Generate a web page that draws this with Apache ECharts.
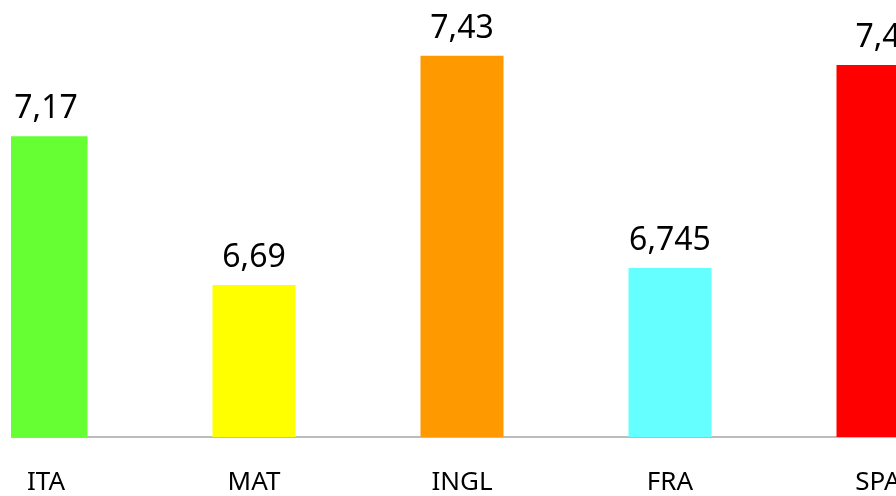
<!DOCTYPE html>
<html>
<head>
<meta charset="utf-8">
<script src="https://cdn.jsdelivr.net/npm/echarts@6/dist/echarts.min.js"></script>
<style>
  html, body { margin: 0; padding: 0; background: #fff; overflow: hidden; width: 896px; height: 496px; }
  #wrap { position: relative; width: 896px; height: 496px; overflow: hidden; }
  /* il grafico originale e' piu' largo della finestra: spostato a sinistra */
  #main { position: absolute; left: -58px; top: 0; width: 1040px; height: 496px; }
  #mask { position: absolute; left: 0; top: 0; width: 11px; height: 496px; background: #fff; }
</style>
</head>
<body>
<div id="wrap">
  <div id="main"></div>
  <div id="mask"></div>
</div>
<script>
// materie
var categories = ['ITA', 'MAT', 'INGL', 'FRA', 'SPA'];
// medie
var values = [7.17, 6.69, 7.43, 6.745, 7.4];
var barColors = ['#66FF33', '#FFFF00', '#FF9900', '#66FFFF', '#FF0000'];

var myChart = echarts.init(document.getElementById('main'));

var barData = [];
for (var i = 0; i < values.length; i++) {
    barData.push({ value: values[i], itemStyle: { color: barColors[i] } });
}

var option = {
    animation: false,
    grid: {
        left: 0,
        right: 0,
        top: 3,
        bottom: 58
    },
    xAxis: {
        type: 'category',
        data: categories,
        axisLine: { lineStyle: { color: '#A6A6A6', width: 1.5 } },
        axisTick: { show: false },
        axisLabel: {
            color: '#000',
            fontFamily: 'Noto Sans',
            fontSize: 26,
            margin: 33
        }
    },
    yAxis: {
        type: 'value',
        min: 6.2,
        max: 7.6,
        show: false,
        splitLine: { show: false }
    },
    series: [
        {
            type: 'bar',
            barWidth: 83,
            data: barData,
            label: {
                show: true,
                position: 'top',
                distance: 11,
                color: '#000',
                fontFamily: 'Noto Sans',
                fontSize: 32,
                formatter: function (p) {
                    return String(p.value).replace('.', ',');
                }
            }
        }
    ]
};
myChart.setOption(option);
</script>
</body>
</html>
